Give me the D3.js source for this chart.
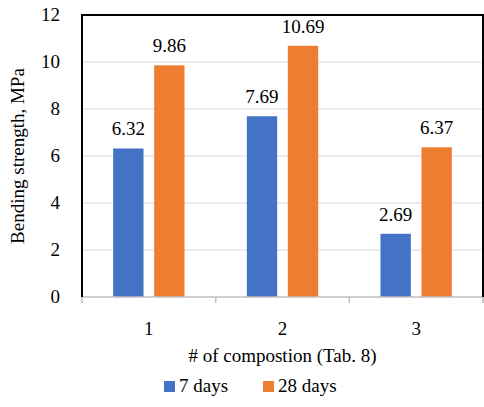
<!DOCTYPE html>
<html><head><meta charset="utf-8">
<script src="https://cdn.jsdelivr.net/npm/d3@7"></script>
</head>
<body style="margin:0">
<svg id="chart" width="484" height="407"></svg>
<script>
const categories = ["1", "2", "3"];
const seriesNames = ["7 days", "28 days"];
const days7 = [6.32, 7.69, 2.69];
const days28 = [9.86, 10.69, 6.37];
const yTicks = [0, 2, 4, 6, 8, 10, 12];
const colors = ["#4472C4", "#ED7D31"];

const svg = d3.select("#chart");
const pL = 82, pR = 483, pT = 15, pB = 297;

const x = d3.scaleBand().domain(categories).range([pL, pR]).paddingInner(0).paddingOuter(0);
const x1 = d3.scaleBand().domain(seriesNames).range([0, x.bandwidth()]).paddingInner(0.26).paddingOuter(0.76);
const y = d3.scaleLinear().domain([0, 12]).range([pB, pT]);

// all texts, collected first (same pattern as a plain text list)
const texts = [];
categories.forEach((c, i) => {
  [days7[i], days28[i]].forEach((v, j) => {
    texts.push({t: v.toFixed(2), x: x(c) + x1(seriesNames[j]) + x1.bandwidth() / 2, y: y(v) - 13, a: "middle"});
  });
  texts.push({t: c, x: x(c) + x.bandwidth() / 2, y: 335, a: "middle"});
});
yTicks.forEach(v => texts.push({t: String(v), x: pL - 22, y: y(v) + 6, a: "end"}));
texts.push({t: "# of compostion (Tab. 8)", x: (pL + pR) / 2, y: 362, a: "middle"});
seriesNames.forEach((s, i) => texts.push({t: s, x: [179, 278][i], y: 392, a: "start"}));

// gridlines
svg.append("g").selectAll("line").data(yTicks.filter(d => d > 0 && d < 12)).join("line")
  .attr("x1", pL).attr("x2", pR).attr("y1", d => y(d)).attr("y2", d => y(d))
  .attr("stroke", "#d9d9d9").attr("stroke-width", 1.2);

// bars
const data = categories.map((c, i) => ({c, vals: [days7[i], days28[i]]}));
const g = svg.append("g").selectAll("g").data(data).join("g")
  .attr("transform", d => `translate(${x(d.c)},0)`);
g.selectAll("rect").data(d => d.vals.map((v, j) => ({v, s: seriesNames[j], j}))).join("rect")
  .attr("x", d => x1(d.s)).attr("width", x1.bandwidth())
  .attr("y", d => y(d.v)).attr("height", d => y(0) - y(d.v))
  .attr("fill", d => colors[d.j]);

// x axis line and boundary ticks
svg.append("line").attr("x1", pL).attr("x2", pR).attr("y1", pB).attr("y2", pB)
  .attr("stroke", "#bfbfbf").attr("stroke-width", 1.5);
const bounds = categories.map(c => x(c)).concat([pR]);
svg.append("g").selectAll("line").data(bounds).join("line")
  .attr("x1", d => d).attr("x2", d => d).attr("y1", pB).attr("y2", pB + 6)
  .attr("stroke", "#bfbfbf").attr("stroke-width", 1.5);

// frame
svg.append("path").attr("d", `M${pL},${pB}V${pT}H${pR}V${pB}`)
  .attr("fill", "none").attr("stroke", "#000").attr("stroke-width", 2);

// legend swatches
svg.append("g").selectAll("rect").data(seriesNames).join("rect")
  .attr("x", (d, i) => [164, 263][i]).attr("y", 381).attr("width", 11).attr("height", 11)
  .attr("fill", (d, i) => colors[i]);

// texts
svg.selectAll("text.lbl").data(texts).join("text").attr("class", "lbl")
  .attr("x", d => d.x).attr("y", d => d.y).attr("text-anchor", d => d.a)
  .attr("font-size", 19).style("font-family", d => "'Liberation Serif'").text(d => d.t);
svg.append("text").attr("transform", `translate(24,${(pT + pB) / 2}) rotate(-90)`)
  .attr("text-anchor", "middle").attr("font-size", 19)
  .style("font-family", "'Liberation Serif'").text("Bending strength, MPa");
</script>
</body></html>
